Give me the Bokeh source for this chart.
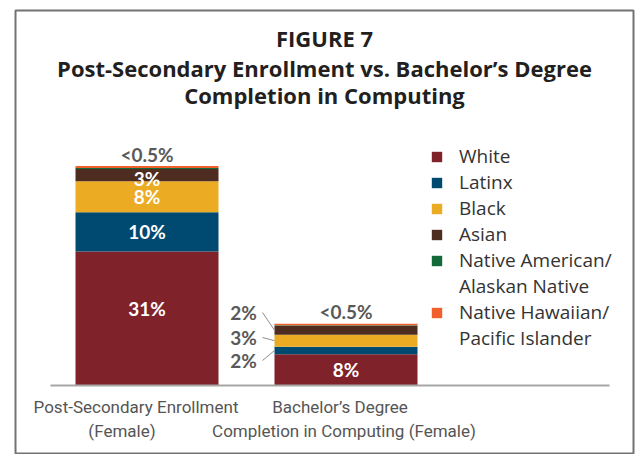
from bokeh.plotting import figure
from bokeh.models import Range1d, ColumnDataSource, Legend, LegendItem, Label
from bokeh.core.properties import value
from bokeh.embed import file_html
from bokeh.resources import INLINE
import numpy as np

# ---------------- data ----------------
categories = ["Post-Secondary Enrollment\n(Female)",
              "Bachelor\u2019s Degree\nCompletion in Computing (Female)"]
groups = ["White", "Latinx", "Black", "Asian",
          ["Native American/", "Alaskan Native"],
          ["Native Hawaiian/", "Pacific Islander"]]
white = [33.5, 7.8]
latinx = [9.8, 1.9]
black = [7.75, 3.0]
asian = [3.05, 2.25]
native_american = [0.25, 0.1]
native_hawaiian = [0.5, 0.4]
labels_white = ["31%", "8%"]
labels_latinx = ["10%", "2%"]
labels_black = ["8%", "3%"]
labels_asian = ["3%", "2%"]
labels_top = ["<0.5%", "<0.5%"]

colors = ["#80222a", "#004a71", "#ebac24", "#4f2c20", "#136937", "#f05f2c"]

# ---------------- layout helpers (page pixels -> data) ----------------
W, H = 637, 454
FL, FR, FT = 15, 633, 10       # frame edges in page px
BASE, PXU = 385, 4.0           # baseline y page px, px per percent
C0, STEP = 146.5, 199.0        # first bar centre, spacing


def px_x(px):
    return (px - C0) / STEP


def px_y(py):
    return (BASE - py) / PXU


p = figure(width=W, height=H, output_backend="svg", toolbar_location=None,
           x_range=Range1d(px_x(FL), px_x(FR)),
           y_range=Range1d(px_y(H), px_y(FT)),
           x_axis_location=None, y_axis_location=None,
           min_border_left=FL, min_border_right=W - FR,
           min_border_top=FT, min_border_bottom=0)
p.grid.visible = False
p.outline_line_color = "#737373"
p.outline_line_width = 2
p.background_fill_color = "white"
p.border_fill_color = "white"

xs = np.arange(len(categories)).astype(float)
series = [white, latinx, black, asian, native_american, native_hawaiian]
keys = ["white", "latinx", "black", "asian", "na", "nh"]
src = ColumnDataSource(dict(x=xs, **{k: v for k, v in zip(keys, series)}))
rends = p.vbar_stack(keys, x="x", width=143 / STEP, color=colors, source=src,
                     line_color=None)

# axis base line
p.segment(x0=[px_x(50)], y0=[0], x1=[px_x(609)], y1=[0],
          line_color="#a6a6a6", line_width=2)

# category labels (each line placed separately)
cat_font = dict(text_align="center", text_baseline="middle",
                text_font=value("Roboto"), text_font_size="17px",
                text_color="#555555")
line1 = [c.split("\n")[0] for c in categories]
line2 = [c.split("\n")[1] for c in categories]
p.text(x=xs, y=[px_y(406)] * 2, text=line1, x_offset=[-11, -6], **cat_font)
p.text(x=xs, y=[px_y(430)] * 2, text=line2, x_offset=[-25, -2], **cat_font)

# value labels inside bars
white_font = dict(text_font=value("Lato"), text_font_style="bold",
                  text_font_size="19px", text_align="center",
                  text_baseline="middle")
wc = np.array(white) / 2
p.text(x=xs, y=wc, text=labels_white, text_color="white", y_offset=[-10, 0], **white_font)
lat_c = np.array(white) + np.array(latinx) / 2
blk_c = np.array(white) + np.array(latinx) + np.array(black) / 2
asi_c = np.array(white) + np.array(latinx) + np.array(black) + np.array(asian) / 2
p.text(x=xs[:1], y=lat_c[:1], text=labels_latinx[:1], text_color="white", **white_font)
p.text(x=xs[:1], y=blk_c[:1], text=labels_black[:1], text_color="white", **white_font)
p.text(x=xs[:1], y=asi_c[:1], text=labels_asian[:1], text_color="white", y_offset=[3], **white_font)

tops = np.sum(np.array(series), axis=0)
p.text(x=xs, y=tops, text=labels_top, text_color="#595959", y_offset=[0, -1],
       **{**white_font, "text_baseline": "bottom"})

# side labels for bar 2 with leader lines
side_x = px_x(243)
side_y = [asi_c[1], blk_c[1], lat_c[1]]
side_txt = [labels_asian[1], labels_black[1], labels_latinx[1]]
label_y = [px_y(312), px_y(337), px_y(360)]
p.text(x=[side_x] * 3, y=label_y, text=side_txt, text_color="#595959", **white_font)
p.segment(x0=[px_x(262)] * 3, y0=label_y, x1=[xs[1] - 143 / STEP / 2] * 3,
          y1=side_y, line_color="#8c8c8c", line_width=1)

# titles
for txt, py in [("FIGURE 7", 37),
                ("Post-Secondary Enrollment vs. Bachelor\u2019s Degree", 67),
                ("Completion in Computing", 94)]:
    p.add_layout(Label(x=px_x(324), y=px_y(py), text=txt, text_align="center",
                       text_baseline="middle", text_font="Open Sans",
                       text_font_style="bold", text_font_size="22px",
                       text_color="#231f20"))

items = []
for g, r in zip(groups, rends):
    if isinstance(g, list):
        items.append(LegendItem(label=g[0], renderers=[r]))
        items.append(LegendItem(label=g[1], renderers=[]))
    else:
        items.append(LegendItem(label=g, renderers=[r]))

legend = Legend(items=items, location=(430 - FL, H - 351), orientation="vertical",
                glyph_width=13, glyph_height=13, label_text_font="Open Sans",
                label_text_font_size="19px", label_text_color="#333333",
                label_standoff=16, spacing=0, padding=0, margin=0,
                border_line_color=None, background_fill_alpha=0)
p.add_layout(legend)

open("out.html", "w").write(file_html(p, INLINE))
